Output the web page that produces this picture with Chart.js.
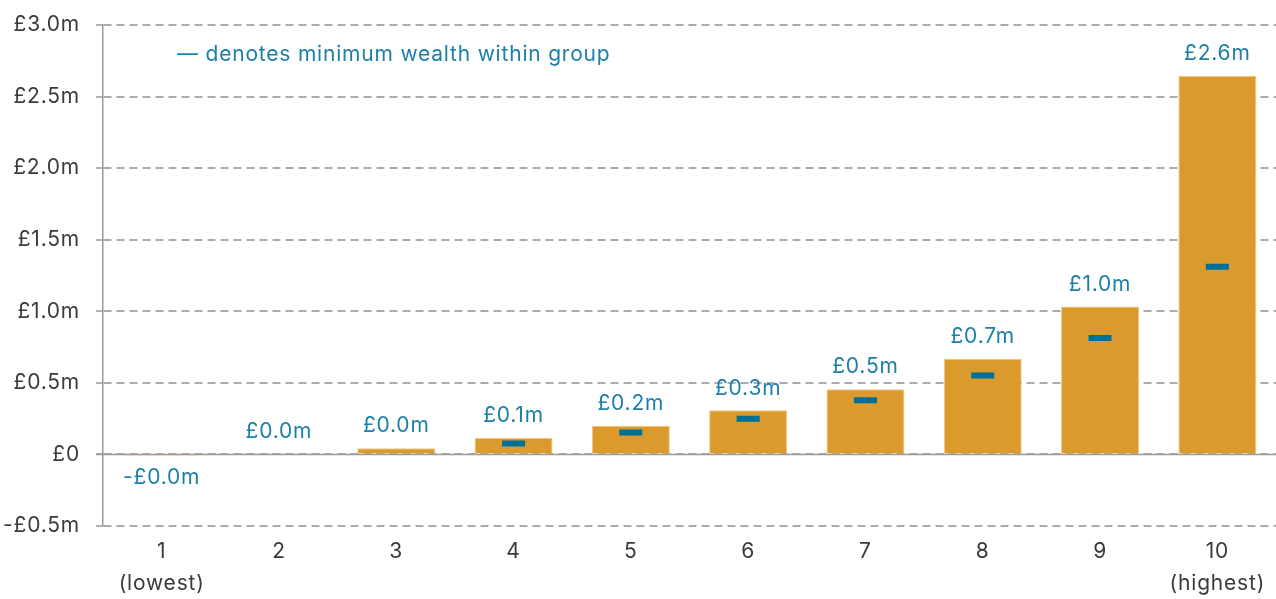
<!DOCTYPE html>
<html>
<head>
<meta charset="utf-8">
<script src="https://cdn.jsdelivr.net/npm/chart.js@4"></script>
<style>
  html, body { margin: 0; padding: 0; background: #fff; }
  #wrap { width: 1276px; height: 599px; }
</style>
</head>
<body>
<div id="wrap"><canvas id="wealthChart" width="1276" height="599"></canvas></div>
<script>
var groups = [['1', '(lowest)'], '2', '3', '4', '5', '6', '7', '8', '9', ['10', '(highest)']];
var avgWealth = [-0.003, 0.008, 0.044, 0.114, 0.2, 0.309, 0.456, 0.668, 1.033, 2.643];
var minWealth = [null, null, null, 0.077, 0.154, 0.249, 0.379, 0.551, 0.814, 1.312];
var yTicks = [-0.5, 0, 0.5, 1.0, 1.5, 2.0, 2.5, 3.0];
var noteText = '\u2014 denotes minimum wealth within group';

var fontName = 'Inter';
var fontSize = 21;
var spacing = '0.8px';
var blueText = '#1b7fa6';
var markBlue = '#00709a';
var barGold = '#db9a2c';

function fmtMoney(v) {
  var s = '\u00a3' + Math.abs(v).toFixed(1) + 'm';
  return (v < 0 ? '-' : '') + s;
}

function fmtTick(v) {
  if (v === 0) return '\u00a30';
  return (v < 0 ? '-' : '') + '\u00a3' + Math.abs(v).toFixed(1) + 'm';
}

// slightly looser text, zero line, bar value labels, note
var extras = {
  id: 'extras',
  beforeUpdate: function(chart) { chart.ctx.letterSpacing = spacing; },
  beforeDraw: function(chart) { chart.ctx.letterSpacing = spacing; },
  beforeDatasetsDraw: function(chart) {
    var ctx = chart.ctx, y = chart.scales.y, area = chart.chartArea;
    var y0 = Math.round(y.getPixelForValue(0)) + 0.5;
    ctx.save();
    ctx.strokeStyle = '#9a9a9a';
    ctx.lineWidth = 1.5;
    ctx.beginPath();
    ctx.moveTo(area.left - 7, y0);
    ctx.lineTo(area.right, y0);
    ctx.stroke();
    ctx.restore();
  },
  afterDatasetsDraw: function(chart) {
    var ctx = chart.ctx;
    var meta = chart.getDatasetMeta(1);
    ctx.save();
    ctx.font = fontSize + 'px ' + fontName;
    ctx.fillStyle = blueText;
    ctx.textAlign = 'center';
    ctx.textBaseline = 'middle';
    meta.data.forEach(function(bar, i) {
      var v = avgWealth[i];
      var ty = v < 0 ? bar.base + 22 : bar.y - 22;
      ctx.fillText(fmtMoney(v), bar.x, ty);
    });
    ctx.textAlign = 'left';
    ctx.fillText(noteText, 177, 55);
    ctx.restore();
  }
};

new Chart(document.getElementById('wealthChart'), {
  type: 'bar',
  data: {
    labels: groups,
    datasets: [{
      type: 'line',
      data: minWealth,
      showLine: false,
      pointStyle: 'line',
      pointRadius: 11.5,
      pointHoverRadius: 11.5,
      pointBorderWidth: 6,
      pointHoverBorderWidth: 6,
      borderColor: markBlue,
      backgroundColor: markBlue,
      order: 0
    }, {
      data: avgWealth,
      backgroundColor: barGold,
      borderColor: '#efc77e',
      borderWidth: 1,
      categoryPercentage: 1,
      barPercentage: 0.665,
      order: 1
    }]
  },
  options: {
    responsive: false,
    animation: false,
    layout: { autoPadding: false, padding: { top: 25, right: 0, left: 0, bottom: 0 } },
    plugins: { legend: { display: false }, tooltip: { enabled: false } },
    scales: {
      x: {
        grid: { display: false, drawTicks: false },
        border: { display: false },
        ticks: {
          color: '#3a3a3a',
          font: { family: fontName, size: fontSize, lineHeight: 1.55 },
          padding: 9,
          maxRotation: 0,
          autoSkip: false
        },
        afterFit: function(s) {
          s.height = 73;
          s.paddingLeft = 0;
          s.paddingRight = 0;
        }
      },
      y: {
        min: -0.5,
        max: 3.0,
        afterBuildTicks: function(s) {
          s.ticks = yTicks.map(function(v) { return { value: v }; });
        },
        grid: {
          color: '#ababab',
          lineWidth: 2,
          tickLength: 7,
          tickColor: '#9a9a9a',
          tickWidth: 1.5,
          tickBorderDash: []
        },
        border: { display: true, color: '#9a9a9a', width: 1.5, dash: [8, 5] },
        ticks: {
          color: '#3a3a3a',
          font: { family: fontName, size: fontSize },
          padding: 16,
          callback: function(v) { return fmtTick(v); }
        },
        afterFit: function(s) {
          s.width = 103;
          s.paddingTop = 0;
          s.paddingBottom = 0;
        }
      }
    }
  },
  plugins: [extras]
});
</script>
</body>
</html>
